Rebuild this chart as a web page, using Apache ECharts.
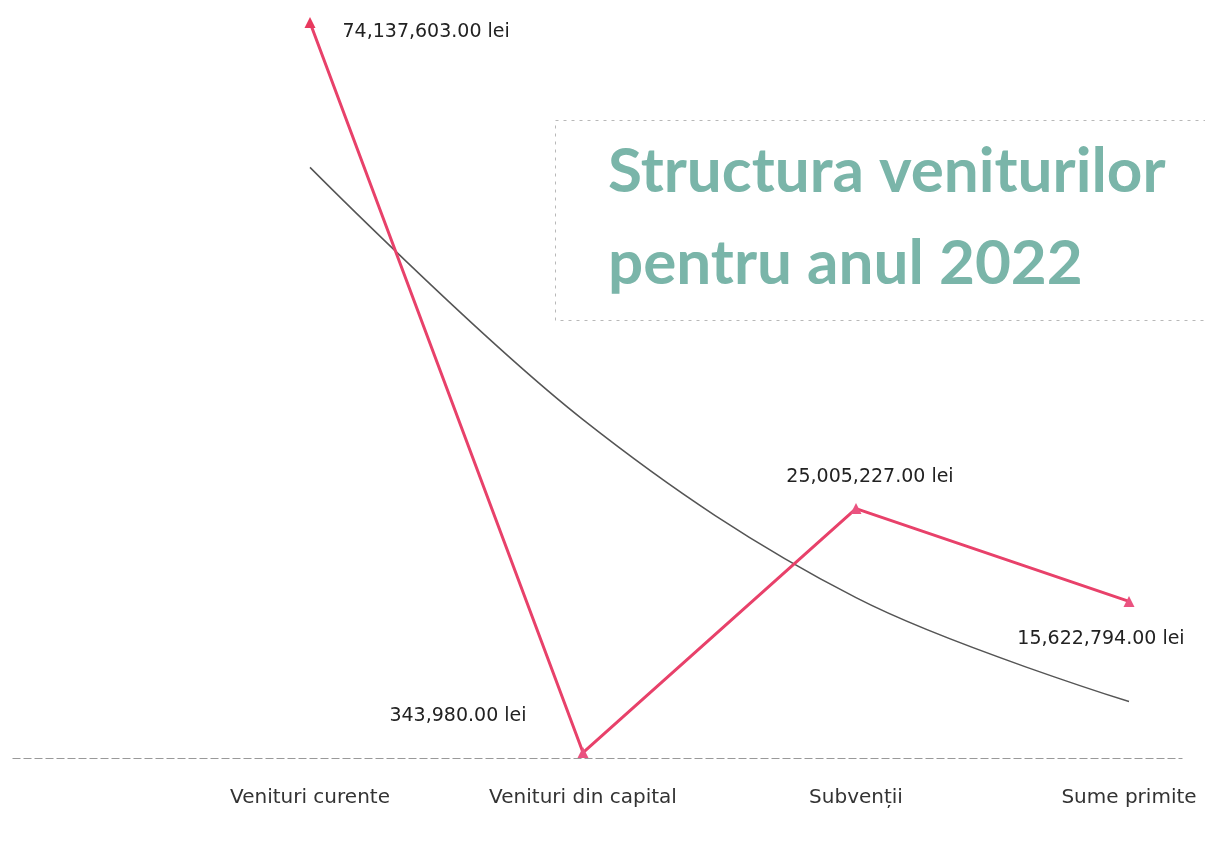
<!DOCTYPE html>
<html>
<head>
<meta charset="utf-8">
<script src="https://cdn.jsdelivr.net/npm/echarts@6/dist/echarts.min.js"></script>
<style>
  html, body { margin: 0; padding: 0; background: #fff; }
  #venituri { width: 1205px; height: 843px; }
</style>
</head>
<body>
<div id="venituri"></div>
<script>
// structura veniturilor 2022
const categorii = ["Venituri curente", "Venituri din capital", "Subvenții", "Sume primite"];
const valori = [74137603, 343980, 25005227, 15622794];
// linia de tendinta
const tendinta = [59500000, 34000000, 16000000, 5500000];
const pozitiiEtichete = ["right", "left", "top", "bottom"];

let myChart = echarts.init(document.getElementById("venituri"));

const fmtLei = (v) => {
  return v.toLocaleString("en-US", { minimumFractionDigits: 2, maximumFractionDigits: 2 }) + " lei";
};

const setData = () => {
  let rez = [];
  for (let i in valori) {
    let lbl = { position: pozitiiEtichete[i] };
    if (i == 0) lbl.offset = [22, 10];
    if (i == 1) lbl.offset = [-46, -37];
    if (i == 2) lbl.offset = [14, -12];
    if (i == 3) lbl.offset = [-28, 18];
    // primul segment e mai rosu, restul mai roz
    rez.push({ value: valori[i], label: lbl, itemStyle: { color: i == 0 ? "#e8395e" : "#ea5380" } });
  }
  return rez;
};

let option = {
  backgroundColor: "#fff",
  title: {
    text: "Structura veniturilor\npentru anul 2022",
    left: 603,
    top: 121,
    textStyle: {
      color: "#7ab5a9",
      fontFamily: "Lato",
      fontWeight: "bold",
      fontSize: 62,
      lineHeight: 92
    }
  },
  graphic: [
    {
      type: "rect",
      left: 553,
      top: 118,
      shape: { width: 700, height: 200 },
      style: { fill: "none", stroke: "#b8b8b8", lineWidth: 1, lineDash: [3, 5] },
      silent: true
    },
    {
      type: "line",
      left: 10,
      top: 756,
      shape: { x1: 0, y1: 0, x2: 1170, y2: 0 },
      style: { stroke: "#999", lineWidth: 1, lineDash: [8, 3] },
      silent: true
    }
  ],
  grid: {
    left: 310,
    right: 76,
    top: 14,
    bottom: 87
  },
  xAxis: {
    type: "category",
    boundaryGap: false,
    data: categorii,
    axisLine: { show: false },
    axisTick: { show: false },
    axisLabel: {
      margin: 32,
      fontSize: 20,
      color: "#333",
      fontFamily: "DejaVu Sans"
    }
  },
  yAxis: {
    type: "value",
    min: 0,
    max: 75000000,
    show: false,
    splitLine: { show: false }
  },
  series: [
    {
      name: "Tendinta",
      type: "line",
      smooth: 0.35,
      showSymbol: false,
      data: tendinta,
      lineStyle: { color: "#555", width: 1.5 },
      z: 1
    },
    {
      name: "Venituri",
      type: "line",
      data: setData(),
      symbol: "triangle",
      symbolSize: 11,
      itemStyle: { color: "#e8395e" },
      lineStyle: { color: "#e8416a", width: 3 },
      label: {
        show: true,
        formatter: (p) => fmtLei(p.value),
        fontSize: 19,
        color: "#222",
        fontFamily: "DejaVu Sans"
      },
      z: 2
    }
  ]
};

option && myChart.setOption(option);
</script>
</body>
</html>
